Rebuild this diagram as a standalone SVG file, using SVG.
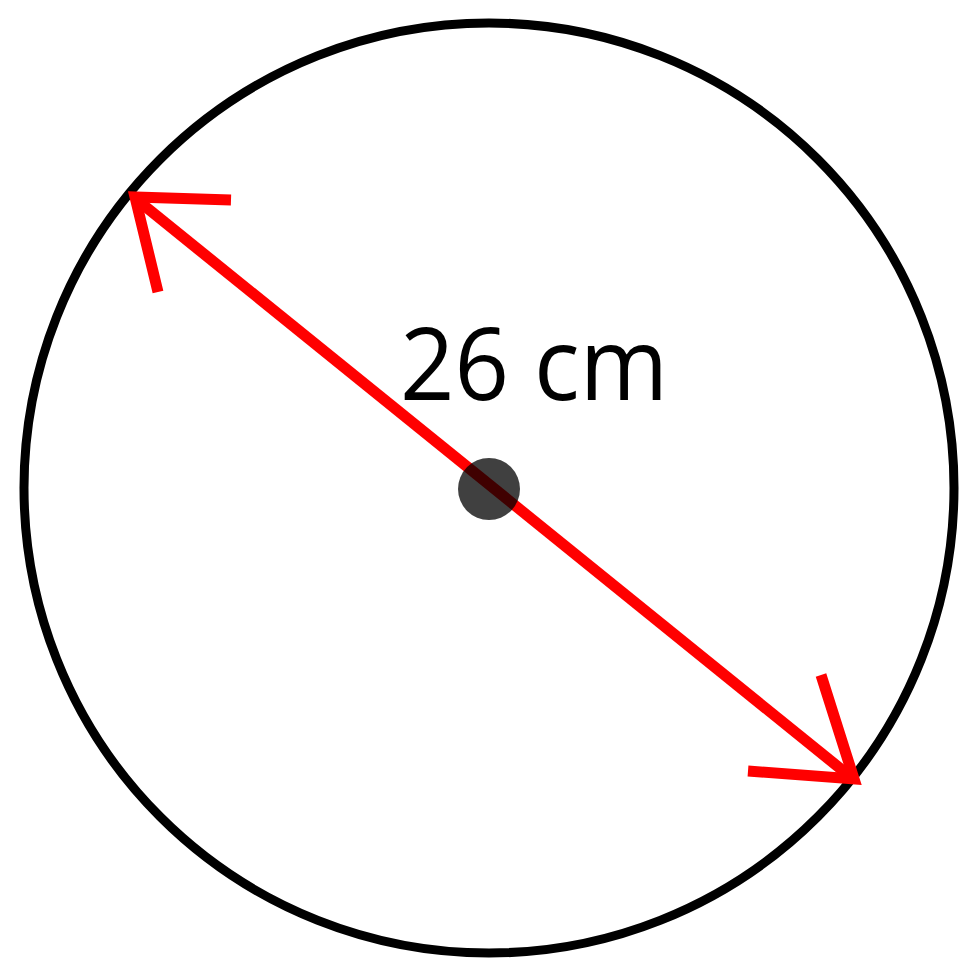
<svg xmlns="http://www.w3.org/2000/svg" width="980" height="980" viewBox="0 0 980 980">
<style>
.red{stroke:#ff0000;stroke-width:11;fill:none;stroke-linecap:butt;stroke-linejoin:miter}
</style>
<rect width="980" height="980" fill="#fff"/>
<g id="circle"><circle cx="489" cy="488" r="465" fill="none" stroke="#000" stroke-width="9"/></g>
<g id="connectors">
<line class="red" x1="136" y1="199" x2="852" y2="778"/>
<polyline class="red" points="231,200 135,197 158,292"/>
<polyline class="red" points="748,771 854,779 821,675"/>
</g>
<g id="center"><circle cx="489" cy="489" r="31" fill="#000" fill-opacity="0.75"/></g>
<g id="label"><text x="400" y="400" font-family="Open Sans, Liberation Sans, sans-serif" font-size="100" textLength="268" lengthAdjust="spacingAndGlyphs" fill="#000">26 cm</text></g>
</svg>
